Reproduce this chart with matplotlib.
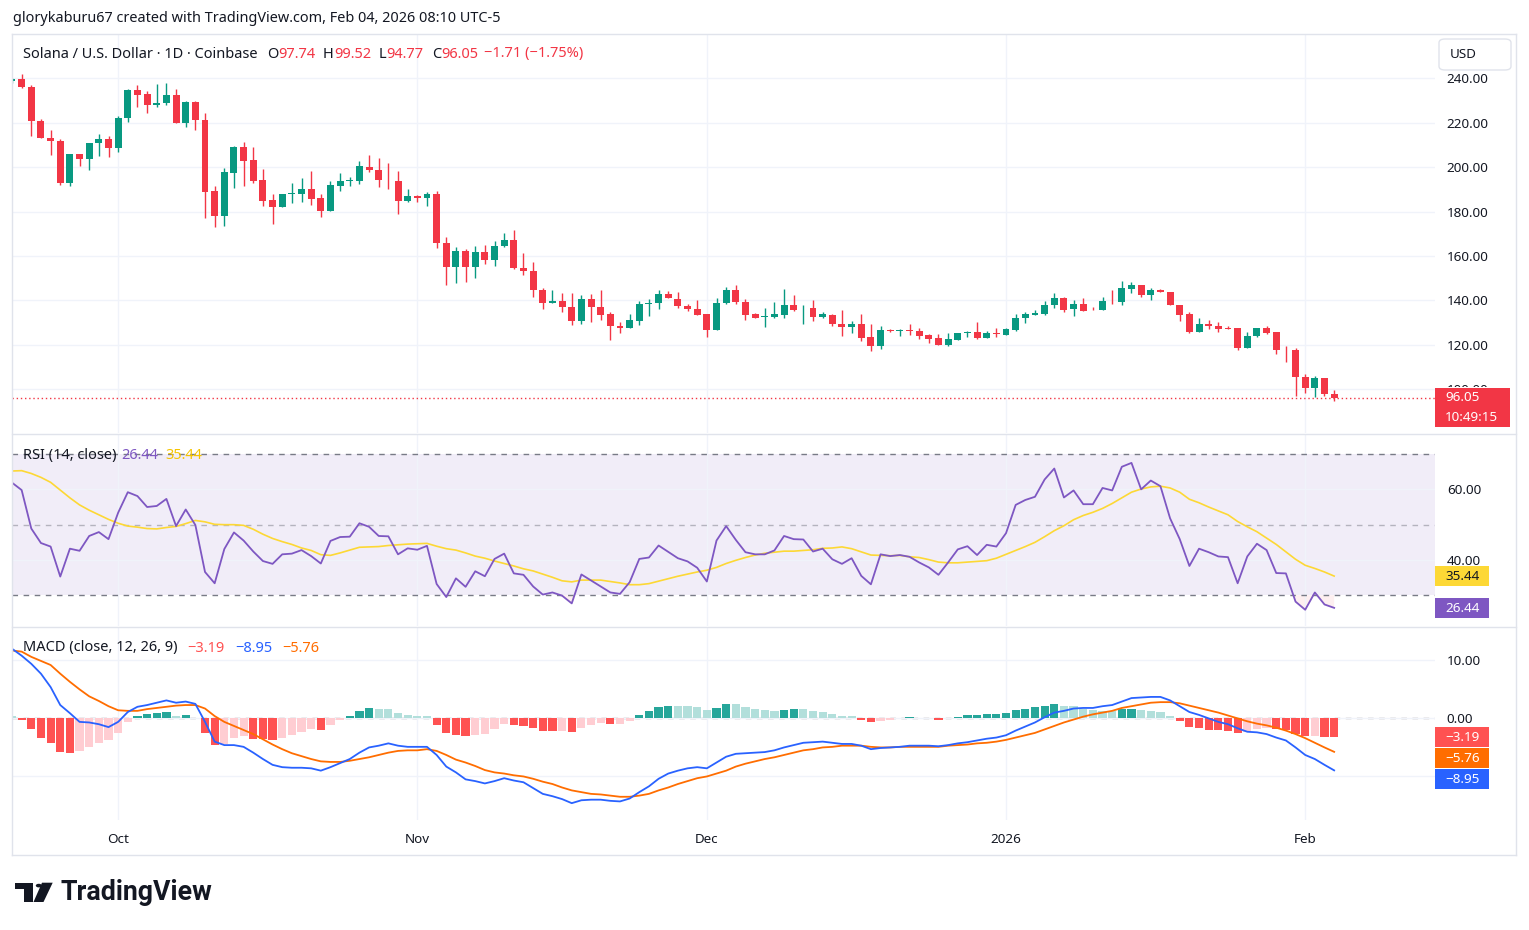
import numpy as np
import pandas as pd
import matplotlib
matplotlib.use("Agg")
import matplotlib.pyplot as plt
from matplotlib.patches import Rectangle, FancyBboxPatch, Polygon, Circle
from matplotlib.lines import Line2D
from matplotlib.transforms import Bbox

plt.rcParams['font.family'] = ['Noto Sans', 'DejaVu Sans']

# daily candles, Sep 20 2025 .. Feb 04 2026 (SOL/USD, Coinbase)
start_date = "2025-09-20"
opens = [238.6, 239.7, 236.1, 220.9, 213.3, 212.0, 192.7, 205.7, 203.6, 210.8,
         212.9, 208.5, 222.0, 234.8, 233.0, 227.8, 228.7, 232.5, 219.7, 229.4,
         221.4, 189.2, 178.1, 197.4, 209.3, 203.0, 194.1, 185.1, 182.1, 188.0,
         188.0, 190.0, 186.0, 180.4, 191.5, 193.9, 193.9, 200.0, 198.8, 194.3,
         193.9, 184.6, 187.1, 185.9, 188.0, 166.0, 154.9, 162.4, 154.9, 161.9,
         158.0, 164.3, 167.3, 154.7, 153.4, 144.8, 138.7, 139.9, 137.2, 130.6,
         140.8, 137.2, 133.6, 128.6, 127.4, 130.6, 138.2, 138.7, 143.0, 140.8,
         137.6, 136.3, 133.6, 126.6, 138.7, 144.8, 139.4, 133.6, 132.4, 132.4,
         133.3, 138.1, 136.4, 136.7, 132.4, 133.3, 129.5, 127.9, 129.5, 123.3,
         119.4, 126.4, 126.1, 126.4, 126.0, 124.2, 122.8, 119.8, 122.1, 125.1,
         125.5, 123.0, 125.2, 124.3, 126.6, 131.9, 133.3, 133.6, 137.8, 141.2,
         136.0, 138.5, 135.8, 135.5, 139.9, 139.1, 145.3, 147.1, 142.3, 144.8,
         143.9, 138.1, 133.6, 125.6, 129.5, 128.6, 127.3, 127.3, 118.4, 123.8,
         127.3, 125.5, 117.8, 117.8, 105.6, 100.4, 104.8, 97.74]
highs = [240.0, 241.9, 237.0, 221.7, 216.9, 212.7, 205.7, 205.7, 211.1, 215.1,
         214.2, 223.2, 235.2, 237.0, 234.3, 237.5, 237.9, 235.2, 229.9, 229.9,
         224.5, 191.4, 199.4, 209.7, 211.5, 209.3, 199.0, 187.8, 187.7, 192.9,
         195.1, 198.3, 187.7, 193.6, 197.2, 195.4, 202.6, 205.6, 204.2, 201.8,
         198.4, 190.3, 187.6, 188.6, 189.4, 168.7, 164.2, 163.3, 164.6, 165.1,
         166.9, 170.5, 171.8, 161.5, 157.4, 145.7, 144.8, 143.5, 143.5, 142.2,
         143.0, 144.8, 134.9, 130.1, 133.6, 139.9, 140.8, 144.8, 144.4, 143.9,
         138.2, 140.3, 134.0, 141.2, 146.1, 147.0, 140.7, 134.5, 136.7, 139.4,
         145.2, 142.5, 138.1, 140.3, 134.6, 134.0, 135.8, 130.6, 134.0, 129.1,
         128.2, 126.9, 126.9, 129.1, 127.3, 124.6, 124.6, 125.1, 125.1, 126.3,
         130.1, 126.3, 127.3, 127.3, 133.6, 134.6, 135.8, 139.9, 143.5, 141.7,
         140.3, 141.2, 137.2, 141.7, 144.8, 148.9, 148.4, 147.1, 145.7, 145.3,
         143.9, 138.1, 134.9, 132.2, 130.9, 130.4, 128.2, 127.3, 125.5, 127.7,
         128.2, 125.5, 119.2, 118.7, 106.6, 106.1, 105.2, 99.52]
lows = [238.0, 235.8, 213.9, 213.0, 205.4, 192.0, 191.5, 200.5, 198.7, 205.0,
        204.5, 206.8, 220.2, 227.3, 224.6, 226.9, 227.8, 219.7, 217.9, 216.9,
        177.2, 173.2, 173.7, 190.6, 191.5, 192.9, 182.6, 174.4, 182.1, 183.9,
        184.4, 183.0, 177.7, 180.4, 189.3, 191.5, 192.4, 197.8, 190.9, 190.0,
        178.7, 184.1, 184.1, 182.3, 163.4, 146.8, 147.7, 148.1, 149.9, 156.2,
        155.3, 163.9, 153.9, 151.3, 141.4, 136.0, 138.7, 134.6, 128.8, 129.4,
        130.1, 131.3, 121.9, 125.2, 127.4, 128.8, 133.1, 136.0, 140.9, 136.4,
        135.0, 133.3, 123.4, 126.6, 138.2, 138.2, 131.0, 131.9, 128.1, 131.9,
        131.9, 135.4, 129.3, 130.6, 131.9, 128.4, 123.9, 125.4, 121.6, 117.2,
        118.1, 125.7, 123.9, 124.3, 122.5, 120.7, 119.8, 119.4, 122.1, 123.4,
        122.5, 123.0, 123.4, 124.3, 126.1, 129.7, 133.3, 133.3, 136.4, 134.6,
        132.8, 135.1, 135.5, 135.5, 138.5, 137.8, 143.5, 141.4, 140.3, 143.6,
        137.8, 130.6, 125.2, 125.6, 127.0, 125.6, 127.0, 117.5, 118.4, 123.5,
        124.7, 115.7, 112.1, 96.8, 98.2, 96.4, 96.8, 94.77]
closes = [239.6, 236.3, 220.6, 213.0, 211.7, 192.7, 205.7, 203.6, 211.1, 212.9,
          208.5, 222.3, 234.8, 232.7, 227.8, 229.0, 232.5, 219.7, 229.4, 221.1,
          188.9, 178.1, 197.7, 209.3, 202.7, 193.8, 184.8, 182.1, 187.7, 188.3,
          190.0, 185.7, 180.4, 191.8, 193.9, 194.2, 200.3, 198.5, 194.0, 194.0,
          184.6, 187.1, 185.9, 188.0, 165.7, 154.9, 162.4, 154.9, 161.9, 158.0,
          164.6, 167.3, 154.4, 153.0, 144.5, 138.7, 139.9, 136.9, 130.6, 140.8,
          136.9, 133.3, 128.3, 127.4, 130.9, 138.5, 139.0, 143.0, 140.9, 137.3,
          135.9, 133.3, 126.6, 139.0, 144.8, 139.1, 133.3, 131.9, 132.7, 133.6,
          138.1, 135.8, 136.7, 132.4, 133.6, 129.3, 127.9, 129.1, 123.0, 119.4,
          126.4, 126.1, 126.4, 126.1, 123.9, 122.4, 119.8, 122.4, 125.1, 125.8,
          123.0, 125.1, 124.9, 126.9, 132.2, 133.6, 134.2, 138.1, 141.2, 135.8,
          138.5, 135.4, 135.5, 139.9, 139.6, 145.7, 147.1, 142.3, 144.8, 143.6,
          137.8, 133.3, 125.6, 129.5, 128.3, 127.0, 127.0, 118.4, 124.1, 127.3,
          125.2, 117.5, 117.5, 105.4, 100.4, 104.8, 97.7, 96.05]

rsi = [61.9, 59.8, 48.9, 44.8, 43.8, 35.3, 43.2, 42.6, 46.8, 47.9,
       45.9, 53.4, 59.2, 58.1, 55.0, 55.3, 57.3, 49.6, 54.3, 49.9,
       36.6, 33.4, 43.1, 47.8, 45.5, 42.4, 39.7, 38.9, 41.6, 41.8,
       42.8, 41.1, 39.0, 45.4, 46.5, 46.6, 50.4, 49.4, 46.8, 46.7,
       41.6, 43.3, 42.9, 44.0, 33.2, 29.5, 34.8, 32.4, 36.8, 35.4,
       40.3, 41.8, 36.2, 35.8, 32.5, 30.2, 30.8, 29.9, 27.7, 35.9,
       34.2, 32.5, 30.8, 30.4, 33.7, 40.3, 40.7, 44.1, 42.3, 40.5,
       39.6, 37.8, 33.9, 45.5, 49.6, 45.7, 42.2, 41.6, 41.6, 42.7,
       46.8, 45.9, 45.8, 42.4, 43.2, 40.2, 38.9, 40.5, 35.5, 33.1,
       41.6, 41.1, 41.4, 40.9, 39.3, 37.9, 35.8, 39.3, 43.0, 43.9,
       41.4, 44.3, 43.8, 47.6, 55.6, 57.0, 57.9, 62.8, 65.9, 57.7,
       59.7, 55.8, 55.8, 60.4, 59.7, 66.4, 67.5, 60.0, 62.5, 60.9,
       51.8, 45.9, 38.3, 43.2, 42.2, 41.0, 40.8, 33.4, 41.0, 44.6,
       42.8, 36.3, 36.2, 28.2, 25.9, 30.8, 27.4, 26.44]
rsi_ma = [65.2, 65.3, 64.5, 63.4, 62.0, 59.8, 57.6, 55.6, 54.1, 52.8,
          51.5, 50.4, 49.6, 49.3, 48.9, 48.8, 49.2, 49.5, 50.3, 51.2,
          50.8, 50.1, 50.0, 50.0, 49.8, 48.7, 47.3, 46.1, 45.2, 44.4,
          43.4, 42.7, 41.5, 41.3, 42.0, 42.8, 43.6, 43.7, 43.8, 44.1,
          44.3, 44.5, 44.6, 44.7, 43.9, 43.2, 42.8, 42.0, 41.1, 40.5,
          39.7, 39.0, 38.3, 37.5, 36.9, 36.0, 35.1, 34.1, 33.8, 34.3,
          34.3, 34.3, 33.9, 33.5, 33.0, 33.0, 33.3, 34.0, 34.7, 35.4,
          36.0, 36.6, 37.1, 37.9, 39.0, 39.9, 40.7, 41.4, 41.9, 42.2,
          42.5, 42.5, 42.7, 42.9, 43.3, 43.4, 43.7, 43.2, 42.3, 41.4,
          41.3, 41.2, 41.3, 40.9, 40.7, 40.1, 39.4, 39.2, 39.2, 39.4,
          39.6, 39.8, 40.5, 41.6, 42.7, 43.8, 45.0, 46.6, 48.3, 49.7,
          51.4, 52.6, 53.5, 54.6, 56.0, 57.6, 59.2, 60.1, 60.7, 60.9,
          60.4, 59.2, 57.2, 56.2, 55.0, 53.9, 52.8, 50.9, 49.4, 48.0,
          46.2, 44.4, 42.3, 40.2, 38.5, 37.6, 36.6, 35.44]

macd = [12.0, 10.8, 9.4, 7.7, 5.4, 2.3, 0.9, -0.6, -0.7, -1.0,
        -1.5, -0.6, 1.1, 2.0, 2.3, 2.7, 3.1, 2.7, 2.9, 2.5,
        -0.6, -4.0, -4.6, -4.6, -4.9, -5.9, -7.0, -8.0, -8.4, -8.5,
        -8.5, -8.6, -9.0, -8.4, -7.7, -7.0, -5.9, -5.0, -4.7, -4.3,
        -4.7, -4.9, -4.9, -4.9, -6.3, -8.3, -9.3, -10.5, -10.8, -11.2,
        -10.8, -10.3, -10.7, -11.0, -12.0, -13.0, -13.4, -13.9, -14.6, -14.1,
        -14.0, -14.0, -14.2, -14.3, -13.8, -12.7, -11.7, -10.4, -9.5, -9.0,
        -8.6, -8.4, -8.6, -7.6, -6.6, -6.1, -6.0, -5.9, -5.8, -5.5,
        -5.0, -4.6, -4.2, -4.1, -4.0, -4.2, -4.4, -4.4, -4.7, -5.3,
        -5.1, -5.0, -4.9, -4.7, -4.7, -4.7, -4.8, -4.6, -4.3, -4.1,
        -3.8, -3.5, -3.3, -2.9, -2.1, -1.4, -0.7, 0.2, 1.0, 1.3,
        1.7, 1.8, 1.8, 2.1, 2.3, 2.9, 3.5, 3.6, 3.7, 3.7,
        3.1, 2.1, 1.1, 0.6, 0.0, -0.6, -1.0, -1.7, -2.3, -2.4,
        -2.7, -3.3, -3.8, -5.0, -6.3, -7.0, -8.0, -8.95]
signal = [11.7, 11.5, 10.6, 9.9, 9.2, 7.7, 6.3, 5.0, 3.8, 3.0,
          2.1, 1.4, 1.3, 1.3, 1.6, 1.8, 2.0, 2.2, 2.3, 2.3,
          1.7, 0.4, -0.6, -1.3, -2.0, -2.7, -3.6, -4.5, -5.3, -6.0,
          -6.5, -7.0, -7.4, -7.5, -7.5, -7.3, -7.0, -6.7, -6.3, -5.9,
          -5.6, -5.5, -5.5, -5.3, -5.6, -6.3, -7.1, -7.6, -8.2, -8.9,
          -9.3, -9.5, -9.8, -10.0, -10.4, -10.9, -11.3, -11.9, -12.4, -12.7,
          -13.0, -13.1, -13.3, -13.5, -13.5, -13.3, -13.0, -12.4, -11.9, -11.3,
          -10.8, -10.3, -10.0, -9.5, -9.0, -8.3, -7.8, -7.4, -7.0, -6.7,
          -6.3, -5.9, -5.5, -5.3, -5.0, -4.9, -4.7, -4.7, -4.7, -4.9,
          -5.0, -5.0, -4.9, -4.9, -4.9, -4.9, -4.9, -4.7, -4.6, -4.5,
          -4.3, -4.2, -4.0, -3.7, -3.3, -2.9, -2.5, -1.9, -1.3, -0.7,
          -0.2, 0.3, 0.7, 1.0, 1.3, 1.8, 2.1, 2.4, 2.7, 2.8,
          2.8, 2.6, 2.2, 1.8, 1.4, 1.0, 0.5, 0.0, -0.5, -0.9,
          -1.2, -1.6, -2.1, -2.7, -3.4, -4.2, -5.0, -5.76]
hist = [0.4, -0.3, -1.8, -3.3, -4.2, -5.8, -5.9, -5.7, -5.0, -4.2,
        -3.7, -2.5, -0.6, 0.4, 0.7, 1.0, 1.1, 0.4, 0.6, 0.05,
        -2.5, -4.5, -4.4, -3.3, -3.0, -3.5, -3.6, -3.8, -3.3, -2.9,
        -2.3, -1.9, -2.0, -1.1, -0.3, 0.4, 1.3, 1.8, 1.7, 1.6,
        1.0, 0.6, 0.4, 0.35, -1.1, -2.5, -2.9, -3.1, -2.9, -2.7,
        -1.8, -1.0, -1.1, -1.3, -1.7, -2.1, -2.2, -2.1, -2.3, -1.6,
        -1.1, -0.85, -0.95, -0.9, -0.4, 0.5, 1.3, 1.9, 2.2, 2.15,
        2.1, 1.9, 1.4, 1.8, 2.5, 2.45, 1.9, 1.6, 1.4, 1.3,
        1.4, 1.6, 1.55, 1.3, 1.1, 0.7, 0.4, 0.35, -0.3, -0.6,
        -0.4, -0.2, 0.05, 0.2, 0.15, 0.1, -0.3, 0.1, 0.3, 0.55,
        0.6, 0.7, 0.75, 1.0, 1.4, 1.6, 1.9, 2.1, 2.5, 2.1,
        2.05, 1.6, 1.4, 1.35, 1.3, 1.6, 1.65, 1.4, 1.3, 1.1,
        0.4, -0.5, -1.5, -1.7, -2.0, -2.05, -2.1, -2.5, -2.3, -1.8,
        -1.7, -1.8, -2.0, -2.7, -3.1, -3.05, -3.15, -3.19]

price_ticks = [100, 120, 140, 160, 180, 200, 220, 240]
rsi_ticks = [60, 40]
macd_ticks = [10, 0, -10]

GREEN = "#089981"
RED = "#F23645"
TXT = "#131722"
GRID = "#f0f3fa"
BORDER = "#e0e3eb"

W, H = 1529, 930
fig = plt.figure(figsize=(W / 100, H / 100), dpi=100)
fig.patch.set_facecolor("white")


def fx(px):
    return px / W


def fy(py):
    return 1 - py / H


def panel(top, bottom):
    a = fig.add_axes([fx(12), fy(bottom), fx(1435 - 12), (bottom - top) / H])
    for s in a.spines.values():
        s.set_visible(False)
    a.set_facecolor("none")
    a.yaxis.tick_right()
    a.tick_params(axis="y", length=0, pad=8.5, labelsize=9.7, labelcolor=TXT)
    a.tick_params(axis="x", length=0, labelbottom=False)
    return a


n = len(closes)
idx = np.arange(n)
dates = pd.date_range(start_date, periods=n, freq="D")
month_idx = [i for i, d in enumerate(dates) if d.day == 1]
month_lbl = [str(d.year) if d.month == 1 else d.strftime("%b") for d in dates[month_idx]]
xlim = (0.0, 147.45)

o = np.array(opens); h = np.array(highs); l = np.array(lows); c = np.array(closes)

# ---- price panel
ax = panel(34, 433)
ax.set_xlim(*xlim)
ax.set_ylim(80.2, 260.0)
ax.set_yticks(price_ticks)
ax.set_yticklabels([f"{v:.2f}" for v in price_ticks])
ax.set_xticks(month_idx)
ax.grid(True, color=GRID, lw=1)
ax.set_axisbelow(True)
cols = np.where(c >= o, GREEN, RED)
ax.vlines(idx, l, h, colors=cols, lw=1.0, zorder=2)
body = np.maximum(np.abs(c - o), 0.3)
ax.bar(idx, body, bottom=np.minimum(o, c), width=0.72, color=cols, zorder=3)
ax.axhline(closes[-1], color=RED, lw=1, ls=(0, (1, 2)), zorder=1)

# the lowest price label sits half under the last-price badge: keep only its top
clip = Bbox.from_extents(fx(1436) * W, fy(387) * H, fx(1515) * W, fy(370) * H)
for t in ax.get_yticklabels():
    if t.get_text() == "100.00":
        t.set_clip_box(clip)
        t.set_clip_on(True)

# ---- RSI panel
ar = panel(435, 626)
ar.set_xlim(*xlim)
ar.set_ylim(21.3, 75.4)
ar.set_yticks(rsi_ticks)
ar.set_yticklabels([f"{v:.2f}" for v in rsi_ticks])
ar.set_xticks(month_idx)
ar.grid(True, color=GRID, lw=1)
ar.axhspan(30, 70, color="#7E57C2", alpha=0.1, lw=0, zorder=0)
ar.axhline(70, color="#787b86", lw=1, ls=(0, (4, 4)))
ar.axhline(50, color="#787b86", lw=1, ls=(0, (4, 4)), alpha=0.5)
ar.axhline(30, color="#787b86", lw=1, ls=(0, (4, 4)))
ra = np.array(rsi)
ar.fill_between(idx, ra, 30, where=ra < 30, interpolate=True, color=RED, alpha=0.08, lw=0)
ar.plot(idx, rsi_ma, color="#FDD835", lw=1.2, zorder=3)
ar.plot(idx, rsi, color="#7E57C2", lw=1.3, zorder=4)

# ---- MACD panel
am = panel(628, 820)
am.set_xlim(*xlim)
am.set_ylim(-17.5, 15.57)
am.set_yticks(macd_ticks)
am.set_yticklabels(["10.00", "0.00", ""])
am.set_xticks(month_idx)
am.set_xticklabels(month_lbl)
am.tick_params(axis="x", labelbottom=True, pad=9, labelsize=9.7, labelcolor=TXT)
for t in am.get_xticklabels():
    if t.get_text().isdigit():
        t.set_fontweight("bold")
am.grid(True, color=GRID, lw=1)
hc = []
for i, v in enumerate(hist):
    rising = i > 0 and v > hist[i - 1]
    if v >= 0:
        hc.append("#26A69A" if rising else "#B2DFDB")
    else:
        hc.append("#FFCDD2" if rising else "#FF5252")
am.bar(idx, hist, width=0.85, color=hc, zorder=2)
am.axhline(0, color="#9598a1", lw=1, ls=(0, (4, 4)), zorder=1)
am.plot(idx, signal, color="#FF6D00", lw=1.3, zorder=3)
am.plot(idx, macd, color="#2962FF", lw=1.3, zorder=4)

# ---- frame
def fline(x0, y0, x1, y1, color=BORDER, lw=1):
    fig.add_artist(Line2D([fx(x0), fx(x1)], [fy(y0), fy(y1)], color=color, lw=lw))

fline(12, 34, 1516, 34)
fline(12, 855, 1516, 855)
fline(12, 34, 12, 855)
fline(1516, 34, 1516, 855)
fline(12, 434, 1516, 434)
fline(12, 627, 1516, 627)

# ---- texts
fig.text(fx(13), fy(19), "glorykaburu67 created with TradingView.com, Feb 04, 2026 08:10 UTC-5",
         fontsize=10.4, color=TXT, va="center", ha="left")

renderer = fig.canvas.get_renderer()


def seq_text(x_px, y_px, parts, size=10.5):
    x = x_px
    for s, color, gap in parts:
        t = fig.text(x / W, fy(y_px), s, color=color, fontsize=size, va="center", ha="left")
        bb = t.get_window_extent(renderer=renderer)
        x = bb.x1 + gap


seq_text(23, 54, [("Solana / U.S. Dollar · 1D · Coinbase", TXT, 9),
                  ("O", TXT, 0), ("97.74", RED, 8), ("H", TXT, 0), ("99.52", RED, 8),
                  ("L", TXT, 0), ("94.77", RED, 8), ("C", TXT, 0), ("96.05", RED, 6),
                  ("\u22121.71 (\u22121.75%)", RED, 0)])
seq_text(23, 455, [("RSI (14, close)", TXT, 5), ("26.44", "#7E57C2", 7), ("35.44", "#F5C400", 0)])
seq_text(23, 648, [("MACD (close, 12, 26, 9)", TXT, 10), ("\u22123.19", "#FF5252", 10),
                   ("\u22128.95", "#2962FF", 10), ("\u22125.76", "#FF6D00", 0)])

# USD box
fig.add_artist(FancyBboxPatch((fx(1439), fy(70)), fx(72), 31 / H,
                              boxstyle="round,pad=0,rounding_size=0.004",
                              fc="white", ec=BORDER, lw=1, zorder=5))
fig.text(fx(1450), fy(55), "USD", fontsize=9.7, color=TXT, va="center", ha="left", zorder=6)


def badge(x0, y0, w, hgt, color, lines, tcolor="white", size=9.7):
    fig.add_artist(Rectangle((fx(x0), fy(y0 + hgt)), w / W, hgt / H, fc=color, ec="none", zorder=5))
    step = hgt / len(lines)
    for k, s in enumerate(lines):
        fig.text(fx(x0 + 10), fy(y0 + step * (k + 0.5)), s, fontsize=size, color=tcolor,
                 va="center", ha="left", zorder=6)


badge(1435, 388, 75, 39, RED, ["96.05", "10:49:15"])
badge(1435, 566, 54, 20, "#FDD835", ["35.44"], tcolor=TXT)
badge(1435, 598, 54, 20, "#7E57C2", ["26.44"])
badge(1435, 727, 54, 20, "#FF5252", ["\u22123.19"])
badge(1435, 748, 54, 20, "#FF6D00", ["\u22125.76"])
badge(1435, 769, 54, 20, "#2962FF", ["\u22128.95"])

# TradingView logo
logo = "#131722"
fig.add_artist(Rectangle((fx(15), fy(888.5)), fx(18.3), 5.8 / H, fc=logo, ec="none"))
fig.add_artist(Rectangle((fx(24), fy(902)), fx(9.3), 19.3 / H, fc=logo, ec="none"))
fig.add_artist(Circle((fx(38.8), fy(885.6)), fx(3.0), fc=logo, ec="none"))
fig.add_artist(Polygon([(fx(42), fy(882.7)), (fx(52.7), fy(882.7)), (fx(43.5), fy(902)),
                        (fx(33.5), fy(902))], closed=True, fc=logo, ec="none"))
fig.text(fx(61), fy(892), "TradingView", fontsize=19.3, fontweight="bold", color=logo,
         va="center", ha="left", family=["Roboto", "DejaVu Sans"])

fig.savefig("out.png", dpi=100)
